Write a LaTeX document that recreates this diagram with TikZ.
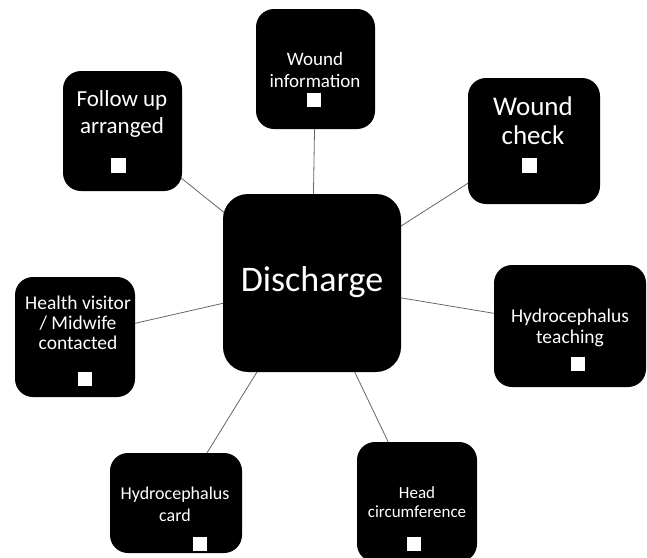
\documentclass[tikz,border=0pt]{standalone}
\usepackage{fontspec}
\setmainfont{Carlito}
\usetikzlibrary{backgrounds}
\tikzset{
  card/.style={fill=black, rounded corners=#1, inner sep=0pt, outer sep=0pt},
  card/.default=18pt,
  tick/.style={fill=white, minimum size=14pt, inner sep=0pt, outer sep=0pt},
  lbl/.style={text=white, align=center, inner sep=0pt},
  link/.style={draw=black!60, line width=0.8pt}
}
\begin{document}
\begin{tikzpicture}[x=1pt, y=-1pt]
\useasboundingbox (0,0) rectangle (647,557);
\begin{scope}
\clip (0,0) rectangle (647,557);
% boxes
\node[card=25pt, minimum width=178pt, minimum height=178pt] (dis) at (312,283) {};
\node[card, minimum width=119pt, minimum height=120pt] (fol) at (122.5,131) {};
\node[card, minimum width=119pt, minimum height=120pt] (win) at (315.5,69) {};
\node[card, minimum width=132pt, minimum height=126pt] (wch) at (534,141) {};
\node[card, minimum width=120pt, minimum height=120pt] (hv) at (75,337) {};
\node[card, minimum width=152pt, minimum height=122pt] (hyt) at (570,326) {};
\node[card, minimum width=132pt, minimum height=100pt] (hyc) at (176,503) {};
\node[card, minimum width=120pt, minimum height=120pt] (hc) at (417,502) {};
% connectors
\begin{scope}[on background layer]
\draw[link] (dis.center) -- (fol.center);
\draw[link] (dis.center) -- (win.center);
\draw[link] (dis.center) -- (wch.center);
\draw[link] (dis.center) -- (hv.center);
\draw[link] (dis.center) -- (hyt.center);
\draw[link] (dis.center) -- (hyc.center);
\draw[link] (dis.center) -- (hc.center);
\end{scope}
% labels
\node[lbl, font=\fontsize{36}{40}\selectfont] (tdis) at (312,282) {Discharge};
\node[lbl, font=\fontsize{23}{27}\selectfont] (tfol) at (122,113.5) {Follow up\\arranged};
\node[lbl, font=\fontsize{19}{22}\selectfont] (twin) at (315,70) {Wound\\information};
\node[lbl, font=\fontsize{27}{29}\selectfont] (twch) at (533,120.5) {Wound\\check};
\node[lbl, font=\fontsize{19.5}{20}\selectfont] (thv) at (78,323) {Health visitor\\/ Midwife\\contacted};
\node[lbl, font=\fontsize{19.5}{21}\selectfont] (thyt) at (570,327.5) {Hydrocephalus\\teaching};
\node[lbl, font=\fontsize{18}{22}\selectfont] (thyc) at (175,504) {Hydrocephalus\\card};
\node[lbl, font=\fontsize{17}{19}\selectfont] (thc) at (417,502.5) {Head\\circumference};
% tick squares
\node[tick, minimum size=15pt] (sfol) at (118,165) {};
\node[tick] (swin) at (314,100) {};
\node[tick, minimum size=15pt] (swch) at (529.5,165) {};
\node[tick] (shv) at (85,379) {};
\node[tick] (shyt) at (578,363.5) {};
\node[tick] (shyc) at (200,543.5) {};
\node[tick] (shc) at (414,543.5) {};
\end{scope}
\end{tikzpicture}
\end{document}
